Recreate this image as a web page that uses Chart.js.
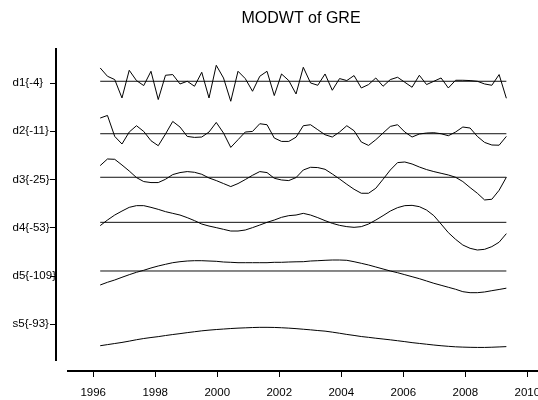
<!DOCTYPE html>
<html lang="en">
<head>
<meta charset="UTF-8" />
<title>MODWT of GRE</title>
<script src="https://cdn.jsdelivr.net/npm/chart.js"></script>
<style>
  body { margin: 0; background: #fff; }
  .chart-box { width: 538px; height: 400px; }
</style>
</head>
<body>
<div class="chart-box"><canvas id="modwt"></canvas></div>
<script>
// sampling: first observation and spacing, in decimal years
const t0 = 1996.226;
const dt = 0.2339;

// MODWT details d1..d5 and smooth s5 (already shifted by the LA8 phase)
const d1 = [13.3, 5, 1.7, -16.7, 11, 0.7, -4.3, 10, -18.3, 6,
            6.7, -2.7, 0, -5, 9, -16.7, 16, 3.3, -20, 10,
            2.7, -10, 5, 10, -14.3, 7.3, 0.7, -12.7, 14, -1.7,
            -4, 7.3, -9, 2.7, 0.7, 5.7, -6.7, -3.3, 3.3, -5,
            1.7, 4, -1, -6, 6, -3.3, 0, 3.3, -6.7, 1,
            1, 0.7, 0, -2.7, -4, 6.7, -17];
const d2 = [15.7, 18.3, -2.7, -10.3, 1.7, 8, 2.3, -7, -12, -0.3,
            12.3, 6.7, -2.7, -3.7, -3.3, 1.7, 11.3, 0.7, -13.7, -6,
            1.7, 2.3, 10, 9, -4.3, -7.7, -7.7, -3.5, 8, 9,
            4, -1, -3.3, 1.7, 8, 3, -8.3, -11.7, -6, 0.7,
            7.3, 9, 1.7, -3.3, -0.3, 0.7, 1, 0, -2, 1.7,
            6.7, 5.7, -2.7, -8.7, -11.3, -11.5, -2.7];
const d3 = [11.7, 18.3, 18, 12.3, 6.3, -0.3, -4.3, -5.3, -5.3, -2,
            2.7, 4.7, 5.7, 5, 3, -0.7, -3.3, -6.3, -9.3, -6.3,
            -2.3, 2, 5.7, 4.7, -1, -2.7, -3.3, -0.3, 7.3, 10,
            9.7, 8, 3.3, -1.7, -7, -12, -16, -16, -11, -2,
            7.3, 14.7, 15.3, 13.3, 10.3, 7.7, 5.7, 4, 2.3, 0,
            -4.3, -10.3, -16, -22.7, -22, -13, 0];
const d4 = [-3.3, 2.3, 7.3, 11.3, 15, 16.7, 16.7, 15, 13, 10.7,
            9, 7.3, 4.7, 1.7, -1.7, -3.7, -5.3, -7, -8.7, -8.7,
            -7.7, -5.3, -2.7, 0, 2.3, 5, 6.7, 7.3, 9, 7.3,
            4.7, 1.7, -1, -3, -4.3, -5, -4.3, -1.7, 2.3, 6.7,
            11.3, 14.7, 16.7, 17, 15.7, 12.3, 6.7, -1.7, -10.3, -17,
            -22.7, -26, -27.7, -27, -24.3, -19.9, -11.3];
const d5 = [-14, -11.3, -9, -6.3, -3.7, -1.3, 0.7, 3, 5, 6.7,
            8.3, 9.3, 10, 10.3, 10.3, 10, 9.7, 9, 8.7, 8.3,
            8.3, 8.3, 8.3, 8.3, 8.7, 8.7, 9, 9.2, 9.3, 10,
            10.3, 10.7, 11, 11, 10.7, 9.3, 7.7, 6, 4, 2,
            0, -1.7, -3.7, -5.7, -7.7, -10, -12.3, -14.3, -16.3, -18.3,
            -20.7, -21.7, -21.7, -21, -19.7, -18.5, -17.2];
const s5 = [2.7, 3.8, 4.9, 6.0, 7.3, 8.7, 9.9, 10.9, 11.8, 12.9,
            13.9, 14.8, 15.8, 16.7, 17.6, 18.3, 18.9, 19.4, 19.9, 20.3,
            20.6, 20.9, 21.1, 21.1, 21.0, 20.7, 20.3, 19.8, 19.2, 18.6,
            17.9, 17.3, 16.3, 15.2, 14.0, 13.0, 11.9, 11.1, 10.2, 9.4,
            8.6, 7.7, 6.8, 5.8, 5.0, 4.2, 3.4, 2.7, 2.1, 1.6,
            1.3, 1.1, 1.0, 1.0, 1.2, 1.5, 1.8];

const bandNames = ['d1', 'd2', 'd3', 'd4', 'd5', 's5'];
const bandLabels = ['d1{-4}', 'd2{-11}', 'd3{-25}', 'd4{-53}', 'd5{-109}', 's5{-93}'];
const yearTicks = [1996, 1998, 2000, 2002, 2004, 2006, 2008, 2010];
const titleText = 'MODWT of GRE';

const series = [d1, d2, d3, d4, d5, s5];
// every band gets the same height; only its upper limit differs
const bandHeight = 48.3;
const bandMax = [22.4, 26.6, 21.9, 18.7, 19.1, 48.3];

const times = d1.map((_, i) => t0 + i * dt);
const tickFont = { family: "'Liberation Sans Narrow', 'Liberation Sans', Arial, sans-serif", size: 11.5 };

// all slices of the left stack share one width
const leftWidth = 43.5;
const fixWidth = s => { s.width = leftWidth; };

// empty slices of the left stack, used for the margins above/below the bands
function spacer(weight, showLine) {
  return {
    type: 'linear', axis: 'y', position: 'left', stack: 'bands', stackWeight: weight,
    min: 0, max: 1,
    afterFit: fixWidth,
    ticks: { display: false },
    grid: { display: false, drawTicks: false },
    border: { display: showLine, color: '#000', width: 2 }
  };
}

const scales = {
  x: {
    type: 'linear',
    min: 1994.8,
    max: 2010.345,
    afterBuildTicks: s => { s.ticks = yearTicks.map(v => ({ value: v })); },
    // fixed height, and no extra room reserved for the end labels
    afterFit: s => { s.height = 29; s.paddingLeft = 0; s.paddingRight = 0; },
    ticks: { callback: v => String(v), font: tickFont, color: '#000', padding: 9, maxRotation: 0, autoSkip: false },
    grid: { drawOnChartArea: false, tickLength: 6, color: '#000', lineWidth: 1 },
    border: { display: false }
  },
  // the stack is laid out bottom-up
  gap: spacer(10.3, false),
  padBottom: spacer(12.3, true)
};

for (let k = bandNames.length - 1; k >= 0; k--) {
  scales[bandNames[k]] = {
    type: 'linear', axis: 'y', position: 'left', stack: 'bands', stackWeight: bandHeight,
    min: bandMax[k] - bandHeight,
    max: bandMax[k],
    afterFit: fixWidth,
    afterBuildTicks: s => { s.ticks = [{ value: (s.min + s.max) / 2 }]; },
    ticks: { callback: () => bandLabels[k], font: tickFont, color: '#000', padding: 2, crossAlign: 'far' },
    grid: { drawOnChartArea: false, tickLength: 6, color: '#000', lineWidth: 1 },
    border: { color: '#000', width: 2 }
  };
}
scales.padTop = spacer(10.4, true);

const datasets = [];
series.forEach((vals, k) => {
  datasets.push({
    data: vals.map((v, i) => ({ x: times[i], y: v })),
    yAxisID: bandNames[k],
    borderColor: '#000',
    borderWidth: 1,
    pointRadius: 0,
    tension: 0
  });
  // zero line for the detail bands
  if (bandNames[k] !== 's5') {
    datasets.push({
      data: [{ x: times[0], y: 0 }, { x: times[times.length - 1], y: 0 }],
      yAxisID: bandNames[k],
      borderColor: '#111',
      borderWidth: 1,
      pointRadius: 0
    });
  }
});

// title over the plot region, and the time axis line that starts
// a little right of the vertical axis
const frame = {
  id: 'frame',
  afterDraw(chart) {
    const { ctx, chartArea, width } = chart;
    ctx.save();
    ctx.fillStyle = '#000';
    ctx.font = "16px 'Liberation Sans', Arial, sans-serif";
    ctx.textAlign = 'center';
    ctx.textBaseline = 'alphabetic';
    ctx.fillText(titleText, (chartArea.left + chartArea.right) / 2 + 4, 23.4);

    ctx.strokeStyle = '#000';
    ctx.lineWidth = 2;
    ctx.beginPath();
    ctx.moveTo(chartArea.left + 11, chartArea.bottom);
    ctx.lineTo(width, chartArea.bottom);
    ctx.stroke();
    ctx.restore();
  }
};

new Chart(document.getElementById('modwt'), {
  type: 'line',
  data: { datasets },
  options: {
    responsive: true,
    maintainAspectRatio: false,
    animation: false,
    layout: { padding: { left: 12.5, right: 0, top: 48.5, bottom: 0 } },
    scales,
    plugins: {
      legend: { display: false },
      tooltip: { enabled: false }
    }
  },
  plugins: [frame]
});
</script>
</body>
</html>
